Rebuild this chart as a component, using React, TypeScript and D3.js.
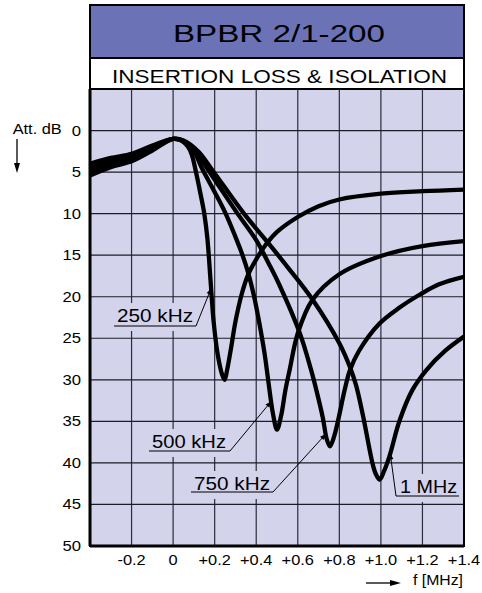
import React from 'react';
import * as d3 from 'd3';

// frequency offset [MHz] and attenuation [dB] for each curve
const f250 = [-0.4, -0.3, -0.2, -0.1, 0, 0.04, 0.07, 0.09, 0.11, 0.13, 0.15, 0.165, 0.18, 0.195, 0.215, 0.235, 0.248, 0.26, 0.28, 0.3, 0.33, 0.36, 0.4, 0.45, 0.5, 0.6, 0.7, 0.8, 1.0, 1.2, 1.4];
const a250 = [4.0, 3.3, 2.8, 1.8, 1.0, 1.2, 1.9, 2.9, 5.0, 7.4, 10, 13, 18, 23, 27, 29.3, 30, 28.8, 26, 23, 19.7, 17.4, 15.5, 13.6, 12.2, 10.4, 9.1, 8.3, 7.6, 7.3, 7.1];

const f500 = [-0.4, -0.3, -0.2, -0.1, 0, 0.05, 0.1, 0.14, 0.2, 0.253, 0.3, 0.334, 0.36, 0.39, 0.41, 0.44, 0.46, 0.48, 0.5, 0.52, 0.54, 0.56, 0.6, 0.67, 0.8, 1.0, 1.2, 1.4];
const a500 = [4.5, 3.7, 3.1, 2.0, 1.0, 1.3, 2.5, 4.6, 7.4, 10, 12.8, 15, 17, 20, 22.5, 26.8, 30.5, 34, 36, 34.3, 31.3, 28.9, 24.4, 20.4, 17.3, 15.1, 13.9, 13.3];

const f750 = [-0.4, -0.3, -0.2, -0.1, 0, 0.05, 0.112, 0.17, 0.24, 0.31, 0.4, 0.46, 0.51, 0.61, 0.665, 0.69, 0.72, 0.74, 0.755, 0.775, 0.794, 0.825, 0.85, 0.895, 0.99, 1.09, 1.19, 1.28, 1.4];
const a750 = [5.0, 4.1, 3.4, 2.2, 1.0, 1.25, 2.6, 4.8, 7.4, 10, 13.2, 16.0, 18.5, 24.4, 28.9, 31.3, 34.5, 37.2, 38, 36.8, 34.9, 31.3, 28.9, 26.5, 23.3, 21.3, 19.7, 18.5, 17.6];

const f1m = [-0.4, -0.3, -0.2, -0.1, 0, 0.05, 0.12, 0.19, 0.341, 0.45, 0.55, 0.67, 0.8, 0.85, 0.88, 0.913, 0.96, 0.975, 0.994, 1.015, 1.04, 1.09, 1.15, 1.22, 1.31, 1.4];
const a1m = [5.4, 4.4, 3.7, 2.4, 1.0, 1.2, 2.5, 4.8, 10, 13.3, 16.4, 20.3, 25.6, 28.4, 30.6, 34.2, 40.1, 41.3, 42, 41.0, 39.3, 34.9, 31.3, 28.8, 26.5, 24.8];

const xTicks = [-0.2, 0, 0.2, 0.4, 0.6, 0.8, 1.0, 1.2, 1.4];
const xTickLabels = ['-0.2', '0', '+0.2', '+0.4', '+0.6', '+0.8', '+1.0', '+1.2', '+1.4'];
const yTicks = [0, 5, 10, 15, 20, 25, 30, 35, 40, 45, 50];

const seriesNames = ['250 kHz', '500 kHz', '750 kHz', '1 MHz'];
const seriesF = [f250, f500, f750, f1m];
const seriesA = [a250, a500, a750, a1m];
// frequency where each label's arrow touches its curve
const tipF = [0.183, 0.472, 0.735, 1.045];

const W = 482;
const H = 593;
const font = '"Liberation Sans", Arial, Helvetica, sans-serif';

const x = d3.scaleLinear().domain([-0.4, 1.4]).range([90, 464]);
const y = d3.scaleLinear().domain([-5, 50]).range([89, 546]);

function interp(fs, as, f) {
    for (let i = 0; i < fs.length - 1; i++) {
        if (f >= fs[i] && f <= fs[i + 1]) {
            const t = (f - fs[i]) / (fs[i + 1] - fs[i]);
            return as[i] + t * (as[i + 1] - as[i]);
        }
    }
    return as[as.length - 1];
}

// label boxes: text start, baseline, width, and how the leader runs
const labelPos = [
    {tx: 117, ty: 322, w: 76, ux0: 114, ux1: 196, uy: 326, from: 'right'},
    {tx: 152, ty: 448, w: 74, ux0: 149, ux1: 230, uy: 451, from: 'right'},
    {tx: 194, ty: 490, w: 76, ux0: 191, ux1: 273, uy: 492, from: 'right'},
    {tx: 400, ty: 493, w: 57, ux0: 396, ux1: 459, uy: 496, from: 'left'},
];

export default function App() {
    const line = d3.line().x(d => x(d[0])).y(d => y(d[1])).curve(d3.curveCatmullRom.alpha(0.5));
    const plotTop = y(-5);
    const plotBottom = y(50);
    const left = x(-0.4);
    const right = x(1.4);

    return (
        <svg width={W} height={H} style={{position: 'absolute', left: 0, top: 0, background: '#fff'}} fontFamily={font}>
            <defs>
                <clipPath id="plot">
                    <rect x={left} y={plotTop} width={right - left} height={plotBottom - plotTop} />
                </clipPath>
                <marker id="ah" viewBox="0 0 10 10" refX="10" refY="5" markerWidth="7" markerHeight="6" orient="auto">
                    <path d="M0,1 L10,5 L0,9 z" fill="#000" />
                </marker>
            </defs>

            {/* title block */}
            <rect x={left} y={5} width={right - left} height={53} fill="#6b73b6" />
            <rect x={left} y={58} width={right - left} height={plotTop - 58} fill="#fff" />
            <text x={173} y={42} fontSize={23.5} textLength={212} lengthAdjust="spacingAndGlyphs" fill="#000">BPBR 2/1-200</text>
            <text x={112} y={83} fontSize={17.7} textLength={335} lengthAdjust="spacingAndGlyphs" fill="#000">INSERTION LOSS &amp; ISOLATION</text>

            {/* plot area */}
            <rect x={left} y={plotTop} width={right - left} height={plotBottom - plotTop} fill="#d3d3ec" />
            {xTicks.slice(0, -1).map(t => (
                <line key={'gx' + t} x1={x(t)} x2={x(t)} y1={plotTop} y2={plotBottom} stroke="#2c2c3c" strokeWidth={1.2} />
            ))}
            {yTicks.slice(0, -1).map(t => (
                <line key={'gy' + t} x1={left} x2={right} y1={y(t)} y2={y(t)} stroke="#1c1c28" strokeWidth={1.2} />
            ))}

            {/* label backgrounds hide the grid */}
            {labelPos.map((p, i) => (
                <rect key={'m' + i} x={p.tx - 4} y={p.ty - 19} width={p.w + 8} height={28} fill="#d3d3ec" />
            ))}

            <g clipPath="url(#plot)">
                {seriesF.map((fs, i) => (
                    <path key={seriesNames[i]} d={line(fs.map((f, j) => [f, seriesA[i][j]]))} fill="none" stroke="#000" strokeWidth={4.3} strokeLinejoin="round" strokeLinecap="round" />
                ))}
            </g>

            {/* labels with leaders */}
            {labelPos.map((p, i) => {
                const tx = x(tipF[i]);
                const ty = y(interp(seriesF[i], seriesA[i], tipF[i]));
                const sx = p.from === 'right' ? p.ux1 : p.ux0;
                return (
                    <g key={'l' + i}>
                        <text x={p.tx} y={p.ty} fontSize={18} textLength={p.w} lengthAdjust="spacingAndGlyphs">{seriesNames[i]}</text>
                        <line x1={p.ux0} x2={p.ux1} y1={p.uy} y2={p.uy} stroke="#000" strokeWidth={1} />
                        <line x1={sx} y1={p.uy} x2={tx} y2={ty} stroke="#000" strokeWidth={1} markerEnd="url(#ah)" />
                    </g>
                );
            })}

            {/* frame */}
            <rect x={left} y={5} width={right - left} height={plotBottom - 5} fill="none" stroke="#000" strokeWidth={2} />
            <line x1={left} x2={right} y1={58} y2={58} stroke="#000" strokeWidth={2} />
            <line x1={left} x2={right} y1={plotTop} y2={plotTop} stroke="#000" strokeWidth={2} />
            <line x1={left} x2={left} y1={plotTop} y2={plotBottom} stroke="#000" strokeWidth={3} />
            <line x1={left} x2={right} y1={plotBottom} y2={plotBottom} stroke="#000" strokeWidth={3} />

            {/* axes labels */}
            {xTicks.map((t, i) => (
                <text key={'xt' + t} transform={`translate(${x(t)},${plotBottom + 19}) scale(1.13,1)`} textAnchor="middle" fontSize={14.5}>{xTickLabels[i]}</text>
            ))}
            {yTicks.map(t => (
                <text key={'yt' + t} transform={`translate(81,${y(t) + 5}) scale(1.15,1)`} textAnchor="end" fontSize={14.5}>{t}</text>
            ))}
            <text x={12.7} y={134} fontSize={14.5} textLength={49} lengthAdjust="spacingAndGlyphs">Att. dB</text>
            <line x1={17} x2={17} y1={139} y2={165} stroke="#000" strokeWidth={1.3} />
            <path d="M14,163 L20,163 L17,173 z" fill="#000" />

            <line x1={366} x2={392} y1={583} y2={583} stroke="#000" strokeWidth={1.3} />
            <path d="M390,580 L390,586 L401,583 z" fill="#000" />
            <text x={413} y={585} fontSize={14.5} textLength={50} lengthAdjust="spacingAndGlyphs">f [MHz]</text>
        </svg>
    );
}
